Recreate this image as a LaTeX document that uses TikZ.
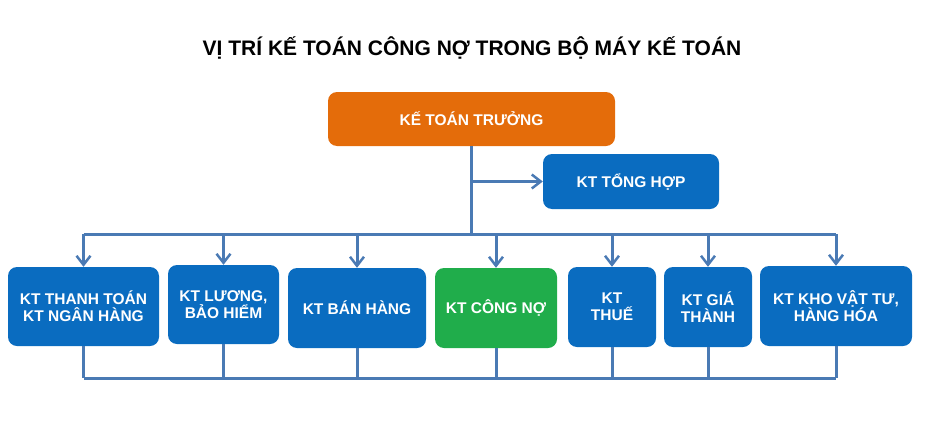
\documentclass[tikz,border=0pt]{standalone}
\usepackage{fontspec}
\setmainfont{Liberation Sans}
\usetikzlibrary{arrows.meta}

\definecolor{ChiefOrange}{HTML}{E46C0A}
\definecolor{UnitBlue}{HTML}{0A6CC0}
\definecolor{DebtGreen}{HTML}{20AD4B}
\definecolor{WireBlue}{HTML}{4A7AB4}

\begin{document}
\begin{tikzpicture}[
      x = 1pt, y = -1pt,
      Wire/.style = {draw = WireBlue, line width = 3pt},
      Line/.style = {Wire, -{Straight Barb[length = 9pt, width = 14pt, line width = 2.5pt]}},
      Unit/.style = {fill = UnitBlue, rounded corners = 9pt, text = white, align = center,
                     font = \bfseries\fontsize{15.5}{17}\selectfont, inner sep = 0pt},
      Title/.style = {font = \bfseries\fontsize{21}{24}\selectfont}
    ]
    \useasboundingbox (0,0) rectangle (939,423);

    \node at (472,48) [Title](title){VỊ TRÍ KẾ TOÁN CÔNG NỢ TRONG BỘ MÁY KẾ TOÁN};

    \node at (471.5,119) [Unit, fill = ChiefOrange, minimum width = 287pt, minimum height = 54pt](ktt){KẾ TOÁN TRƯỞNG};
    \node at (631,181.5) [Unit, minimum width = 176pt, minimum height = 55pt](th){KT TỔNG HỢP};

    \node at (83.5,306.5) [Unit, minimum width = 151pt, minimum height = 79pt](tt){KT THANH TOÁN\\KT NGÂN HÀNG};
    \node at (223.5,304.5) [Unit, minimum width = 111pt, minimum height = 79pt](lg){KT LƯƠNG,\\BẢO HIỂM};
    \node at (357,308) [Unit, minimum width = 138pt, minimum height = 80pt](bh){KT BÁN HÀNG};
    \node at (496,308) [Unit, fill = DebtGreen, minimum width = 122pt, minimum height = 80pt](cn){KT CÔNG NỢ};
    \node at (612,307) [Unit, minimum width = 88pt, minimum height = 80pt](thue){KT\\THUẾ};
    \node at (708,307) [Unit, minimum width = 88pt, minimum height = 80pt](gt){KT GIÁ\\THÀNH};
    \node at (836,306) [Unit, minimum width = 152pt, minimum height = 80pt](kho){KT KHO VẬT TƯ,\\HÀNG HÓA};

    \coordinate (bus) at (0,234);
    \coordinate (foot) at (0,378);

    % from the chief down to the bus
    \path [Wire] (ktt.south) -- (ktt.south |- bus);
    \path [Line] (ktt.south |- th.west) -- (th.west);
    \path [Wire] (tt.north |- bus) -- (kho.north |- bus);

    \foreach \u in {tt, lg, bh, cn, thue, gt, kho}
      \path [Line] (\u.north |- bus) -- (\u.north);

    % joined again at the foot
    \foreach \u in {tt, lg, bh, cn, thue, gt, kho}
      \path [Wire] (\u.south) -- (\u.south |- foot);
    \path [Wire] (tt.south |- foot) -- (kho.south |- foot);
  \end{tikzpicture}
\end{document}
